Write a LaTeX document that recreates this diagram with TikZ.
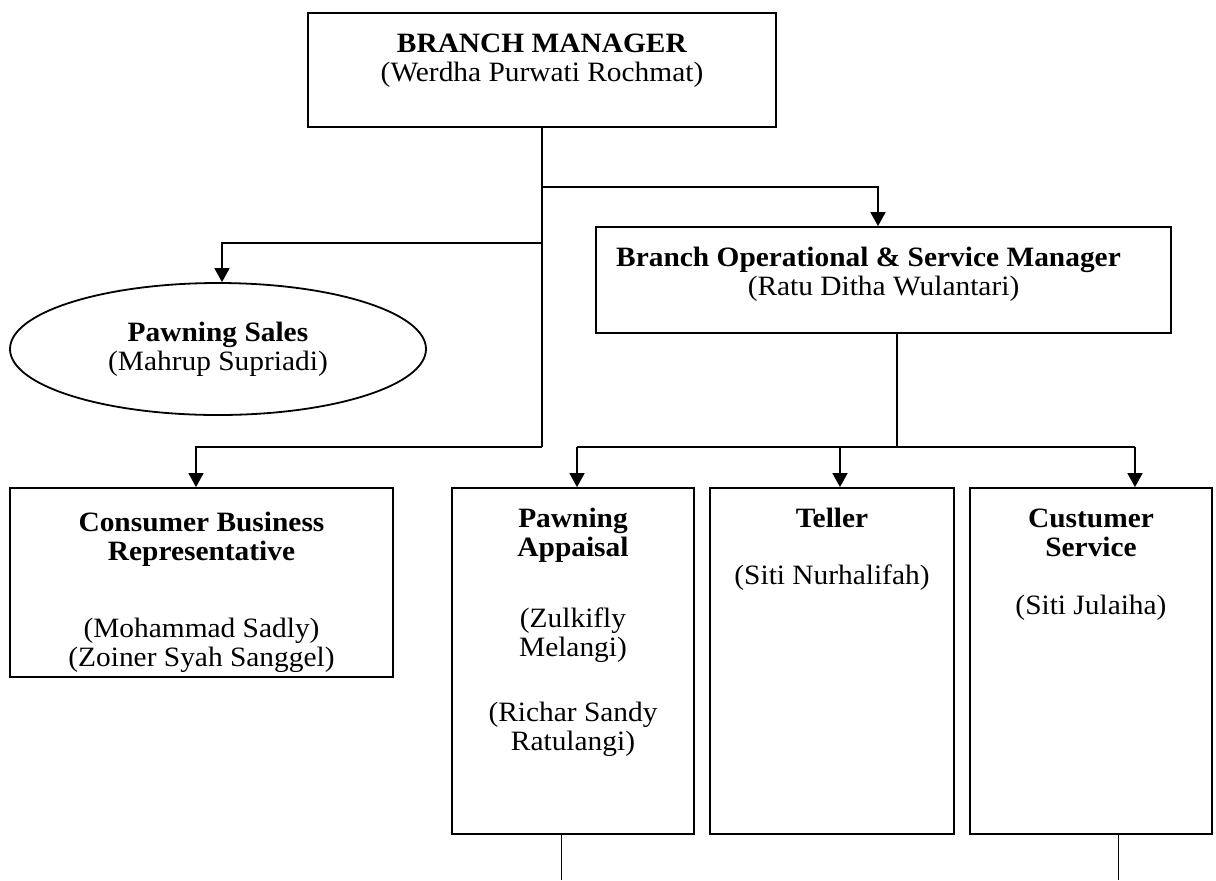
\documentclass[tikz,border=0pt]{standalone}
\usepackage{fontspec}
\setmainfont[FakeStretch=1.05]{Liberation Serif}
\usetikzlibrary{arrows.meta,shapes.geometric,calc}
\newcommand\bxt[4]{\parbox[c][#2][t]{#1}{\centering\vspace*{#3}\strut #4\par}}
\tikzset{
  box/.style={draw, rectangle, line width=0.9pt, inner sep=0pt},
  oval/.style={draw, ellipse, line width=0.9pt, inner sep=0pt, align=center},
  conn/.style={line width=0.8pt},
  arr/.style={conn, -{Triangle[length=7pt,width=7.5pt]}},
}
\begin{document}
\begin{tikzpicture}[x=0.5pt,y=-0.5pt,font=\fontsize{14}{14.5}\selectfont]
\useasboundingbox (0,0) rectangle (1216,880);

\node[box] (bm) at (542,70) {\bxt{234pt}{57pt}{9.8pt}{\textbf{BRANCH MANAGER}\\(Werdha Purwati Rochmat)}};
\node[box] (bosm) at (883.5,280) {\bxt{287.5pt}{53pt}{9.8pt}{\textbf{Branch Operational \& Service Manager}\kern15pt\\(Ratu Ditha Wulantari)}};
\node[oval, minimum width=208pt, minimum height=66pt] (ps) at (218,349) {\textbf{Pawning Sales}\\(Mahrup Supriadi)};
\node[box] (cbr) at (201.5,582.5) {\bxt{191.5pt}{94.5pt}{11.8pt}{\textbf{Consumer Business}\\\textbf{Representative}\\[24pt](Mohammad Sadly)\\(Zoiner Syah Sanggel)}};
\node[box] (pa) at (573,661) {\bxt{121pt}{173pt}{9.8pt}{\textbf{Pawning}\\\textbf{Appaisal}\\[21pt](Zulkifly\\Melangi)\\[18pt](Richar Sandy\\Ratulangi)}};
\node[box] (tl) at (832,661) {\bxt{122pt}{173pt}{9.8pt}{\textbf{Teller}\\[14pt](Siti Nurhalifah)}};
\node[box] (cs) at (1091,661) {\bxt{121pt}{173pt}{9.8pt}{\textbf{Custumer}\\\textbf{Service}\\[14.5pt](Siti Julaiha)}};

\coordinate (jr) at (542,187);
\coordinate (jl) at (542,243);
\coordinate (jb) at (542,447);
\coordinate (jbr) at (897,447);
\coordinate (jpa) at (577,447);
\coordinate (jtl) at (840,447);
\coordinate (jcs) at (1135,447);
\coordinate (pe) at (561.5,880);
\coordinate (ce) at (1118.5,880);

\draw[conn] (bm.south) -- (jb);
\draw[arr] (jr) -| ([xshift=-2.75pt]bosm.north);
\draw[arr] (jl) -| ([xshift=2pt]ps.north);
\draw[arr] (jb) -| ([xshift=-2.75pt]cbr.north);
\draw[conn] ($(bosm.south)+(13.5,0)$) -- (jbr);
\draw[conn] (jpa) -- (jcs);
\draw[arr] (jpa) -- (jpa |- pa.north);
\draw[arr] (jtl) -- (jtl |- tl.north);
\draw[arr] (jcs) -- (jcs |- cs.north);
\draw[conn] (pa.south -| pe) -- (pe);
\draw[conn] (cs.south -| ce) -- (ce);
\end{tikzpicture}
\end{document}
